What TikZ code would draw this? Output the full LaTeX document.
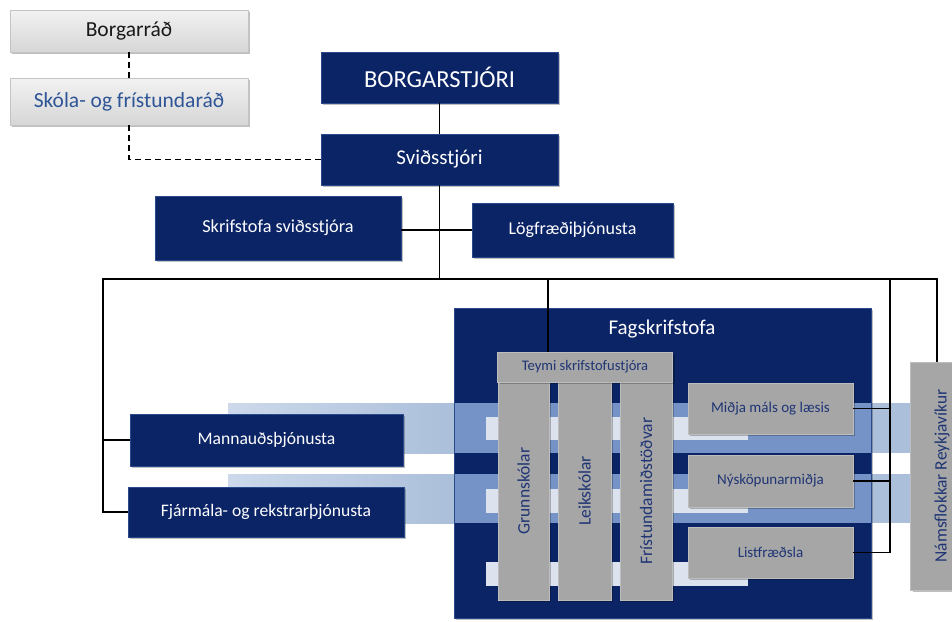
\documentclass[tikz,border=0pt]{standalone}
\usepackage{fontspec}
\setmainfont{Carlito}
\usetikzlibrary{shadows}
\definecolor{navy}{HTML}{0B2466}
\definecolor{navyedge}{HTML}{2A4A8C}
\definecolor{grayf}{HTML}{A6A6A6}
\definecolor{grayedge}{HTML}{BDBDBD}
\definecolor{graytext}{HTML}{1F3575}
\definecolor{lighttop}{HTML}{F2F2F2}
\definecolor{lightbot}{HTML}{D6D6D6}
\definecolor{lightedge}{HTML}{C4C4C4}
\definecolor{skolatext}{HTML}{2F5597}
\definecolor{bandO}{HTML}{ABBFDA}
\definecolor{bandL}{HTML}{CDD9EB}
\definecolor{bandI}{HTML}{7593C6}
\definecolor{stripc}{HTML}{DCE3EE}
\newcommand{\fs}[1]{\fontsize{#1}{#1}\selectfont}
\begin{document}
\begin{tikzpicture}[x=1pt,y=-1pt,
  shadowed/.style={drop shadow={shadow xshift=2pt,shadow yshift=-2pt,opacity=0.25,fill=black}},
  navybox/.style={shadowed,fill=navy,draw=navyedge,line width=0.6pt,text=white,inner sep=0pt,align=center},
  graybox/.style={shadowed,fill=grayf,draw=grayedge,line width=0.6pt,text=graytext,inner sep=0pt,align=center},
  lightbox/.style={shadowed,top color=lighttop,bottom color=lightbot,draw=lightedge,line width=0.6pt,inner sep=0pt,align=center},
  conn/.style={draw=black,line width=1.9pt,line join=miter},
  dashconn/.style={draw=black,line width=1.9pt,dash pattern=on 6pt off 4pt}]
\useasboundingbox (0,0) rectangle (952,621);
\fill[white] (0,0) rectangle (952,621);

% bands (outside parts)
\fill[left color=bandL,right color=bandO] (228,403) rectangle (454,453);
\fill[left color=bandL,right color=bandO] (228,474) rectangle (454,523);
\fill[bandO] (454,403) rectangle (912,453);
\fill[bandO] (454,474) rectangle (912,523);

% Fagskrifstofa container
\node[navybox,minimum width=417pt,minimum height=310pt] (fag) at (662.5,463) {};
\node[text=white,font=\fs{21}] (fagl) at (662,329) {Fagskrifstofa};

% inner bands and strips
\fill[bandI] (454.5,403) rectangle (870.5,453);
\fill[bandI] (454.5,474) rectangle (870.5,523);
\fill[stripc] (486,417) rectangle (748,440);
\fill[stripc] (486,489) rectangle (748,513);
\fill[stripc] (486,562) rectangle (748,586);

% top boxes
\node[lightbox,minimum width=238pt,minimum height=42pt,font=\fs{21.5},text=black!90] (borg) at (129,31) {Borgarráð};
\node[lightbox,minimum width=238pt,minimum height=47pt,font=\fs{21.5},text=skolatext] (skola) at (129,101.5) {Skóla- og frístundaráð};
\node[navybox,minimum width=237pt,minimum height=51pt,font=\fs{24.5}] (bstj) at (439.5,77.5) {BORGARSTJÓRI};
\node[navybox,minimum width=237pt,minimum height=51pt,font=\fs{21}] (svid) at (439.5,159.5) {Sviðsstjóri};
\node[navybox,minimum width=246pt,minimum height=64pt,font=\fs{18.3}] (skrif) at (278,228) {Skrifstofa sviðsstjóra};
\node[navybox,minimum width=201pt,minimum height=54pt,font=\fs{18}] (log) at (572.5,230) {Lögfræðiþjónusta};
\node[navybox,minimum width=273pt,minimum height=52pt,font=\fs{17.6}] (mann) at (266.5,440) {Mannauðsþjónusta};
\node[navybox,minimum width=276pt,minimum height=50pt,font=\fs{17.6}] (fjar) at (266,512) {Fjármála- og rekstrarþjónusta};

% gray boxes inside Fagskrifstofa
\node[graybox,minimum width=218pt,minimum height=51pt,rotate=90,font=\fs{17.5}] (grunn) at (523.5,491) {Grunnskólar};
\node[graybox,minimum width=218pt,minimum height=53pt,rotate=90,font=\fs{17.5}] (leik) at (584.5,491) {Leikskólar};
\node[graybox,minimum width=218pt,minimum height=52pt,rotate=90,font=\fs{17.5}] (fris) at (646,491) {Frístundamiðstöðvar};
\node[graybox,minimum width=175pt,minimum height=30pt,font=\fs{14.6}] (teymi) at (585,367) {Teymi skrifstofustjóra};
\node[graybox,minimum width=165pt,minimum height=51pt,font=\fs{15}] (midja) at (770.5,408.5) {Miðja máls og læsis};
\node[graybox,minimum width=165pt,minimum height=52pt,font=\fs{15}] (nysk) at (770.5,481) {Nýsköpunarmiðja};
\node[graybox,minimum width=165pt,minimum height=51pt,font=\fs{15}] (list) at (770.5,552.5) {Listfræðsla};
\node[graybox,minimum width=228pt,minimum height=63pt,rotate=90,font=\fs{17.4}] (nams) at (942,476) {Námsflokkar Reykjavíkur};

% connectors
\coordinate (busL) at (103,279);
\coordinate (busR) at (937,279);
\coordinate (busC) at (439.5,279);
\coordinate (busT) at (548,279);
\coordinate (busF) at (890,279);
\draw[dashconn] (borg.south) -- (skola.north);
\draw[dashconn] (skola.south) |- (svid.west);
\draw[conn] (bstj.south) -- (svid.north);
\draw[conn] (svid.south) -- (busC);
\draw[conn] (skrif.east |- log.west) -- (log.west);
\draw[conn] (fjar.west) -| (busL) -- (busR) -- (busR |- nams.east);
\draw[conn] (busL |- mann.west) -- (mann.west);
\draw[conn] (busT) -- (busT |- teymi.north);
\draw[conn] (busF) |- (list.east);
\draw[conn] (busF |- midja.east) -- (midja.east);
\draw[conn] (busF |- nysk.east) -- (nysk.east);
\end{tikzpicture}
\end{document}
